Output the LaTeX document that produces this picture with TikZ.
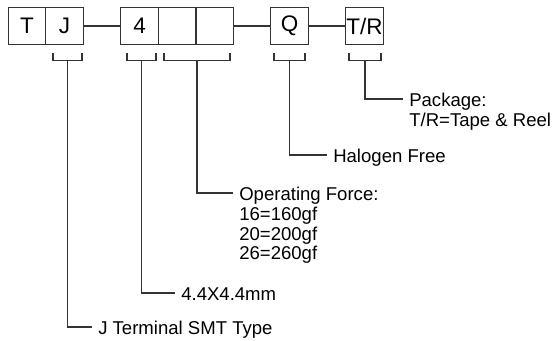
\documentclass[tikz,border=0pt]{standalone}
\usepackage{fontspec}
\setmainfont{Liberation Sans}

\begin{document}
\begin{tikzpicture}[
      cell/.style={draw=black!80,line width=0.75pt,minimum width=0.94cm,
        minimum height=0.94cm,inner sep=0pt,outer sep=0pt,
        font=\fontsize{16pt}{18pt}\selectfont},
      brk/.style={minimum height=0.19cm,inner sep=0pt,outer sep=0pt},
      lbl/.style={anchor=west,inner xsep=0.15cm,inner ysep=0pt,
        text height=0.4cm,text depth=0cm,
        font=\fontsize{13.2pt}{15pt}\selectfont},
      link/.style={draw=black!80,line width=0.75pt}
    ]
    \useasboundingbox (0,0) rectangle (13.85,-8.525);
    % the code cells
    \node[cell] (T) at (0.675,-0.65) {T};
    \node[cell] (J) at (1.615,-0.65) {J};
    \node[cell] (S4) at (3.49,-0.65) {4};
    \node[cell] (F1) at (4.43,-0.65) {};
    \node[cell] (F2) at (5.37,-0.65) {};
    \node[cell] (Q) at (7.24,-0.65) {Q};
    \node[cell] (TR) at (9.11,-0.65) {T/R};
    \draw[link] (J.east) -- (S4.west);
    \draw[link] (F2.east) -- (Q.west);
    \draw[link] (Q.east) -- (TR.west);
    % brackets under the cells
    \node[brk,minimum width=0.725cm] (bJ) at (1.6875,-1.425) {};
    \node[brk,minimum width=0.725cm] (bS4) at (3.5375,-1.425) {};
    \node[brk,minimum width=1.65cm] (bF) at (4.925,-1.425) {};
    \node[brk,minimum width=0.775cm] (bQ) at (7.2375,-1.425) {};
    \node[brk,minimum width=0.8cm] (bTR) at (9.125,-1.425) {};
    % what each field means
    \node[lbl] (lTR) at (10.075,-2.475) {Package:};
    \node[lbl,anchor=base west] (lTR2) at ([yshift=-0.49cm]lTR.base west)
      {T/R=Tape \& Reel};
    \node[lbl] (lQ) at (8.175,-3.875) {Halogen Free};
    \node[lbl] (lF) at (5.825,-4.825) {Operating Force:};
    \node[lbl,anchor=base west] (lF16) at ([yshift=-0.49cm]lF.base west)
      {16=160gf};
    \node[lbl,anchor=base west] (lF20) at ([yshift=-0.49cm]lF16.base west)
      {20=200gf};
    \node[lbl,anchor=base west] (lF26) at ([yshift=-0.49cm]lF20.base west)
      {26=260gf};
    \node[lbl] (lS4) at (4.375,-7.325) {4.4X4.4mm};
    \node[lbl] (lJ) at (2.3,-8.175) {J Terminal SMT Type};
    % leaders
    \draw[link] (bTR.north west) |- (bTR.south east) -- (bTR.north east)
      (bTR.south) |- (lTR.west);
    \draw[link] (bQ.north west) |- (bQ.south east) -- (bQ.north east)
      (bQ.south) |- (lQ.west);
    \draw[link] (bF.north west) |- (bF.south east) -- (bF.north east)
      (bF.south) |- (lF.west);
    \draw[link] (bS4.north west) |- (bS4.south east) -- (bS4.north east)
      (bS4.south) |- (lS4.west);
    \draw[link] (bJ.north west) |- (bJ.south east) -- (bJ.north east)
      (bJ.south) |- (lJ.west);
  \end{tikzpicture}
\end{document}
